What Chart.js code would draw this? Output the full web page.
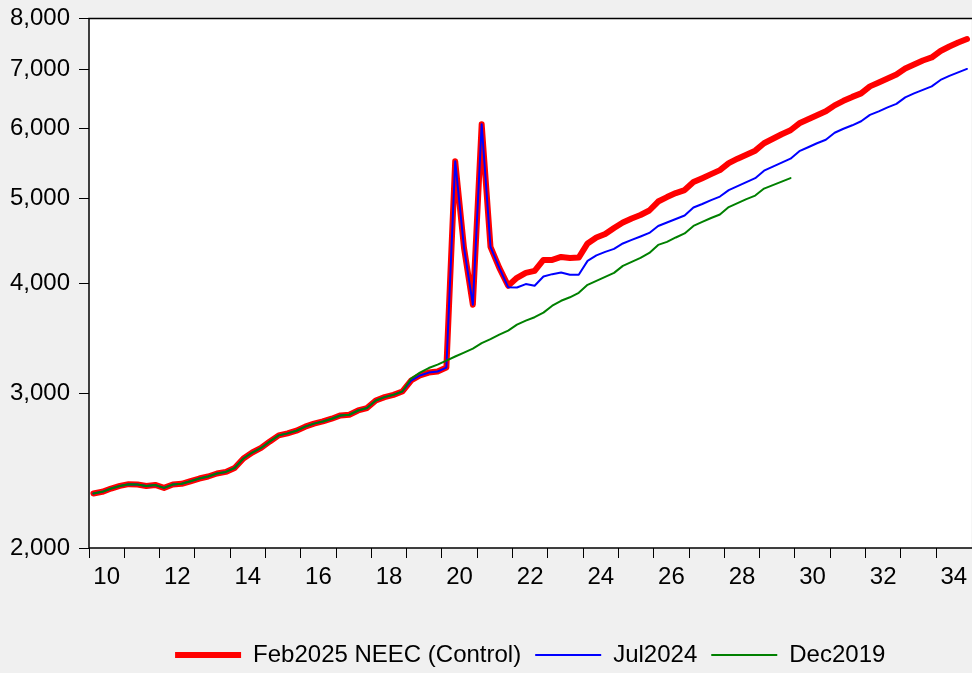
<!DOCTYPE html>
<html>
<head>
<meta charset="utf-8">
<title>NEEC vintages</title>
<script src="https://cdn.jsdelivr.net/npm/chart.js@4.4.1/dist/chart.umd.min.js"></script>
<style>
    html, body { margin: 0; padding: 0; background: #f0f0f0; overflow: hidden; }
    #chart { display: block; }
</style>
</head>
<body>
<canvas id="chart" width="972" height="673"></canvas>
<script>
'use strict';

// quarterly sample 2010Q1 - 2034Q4
const quarters = [];
for (let yr = 2010; yr <= 2034; yr++) {
    for (let q = 1; q <= 4; q++) {
        quarters.push(yr + 'Q' + q);
    }
}
const xTickLabels = ['10', '12', '14', '16', '18', '20', '22', '24', '26', '28', '30', '32', '34'];
const yTicks = [2000, 3000, 4000, 5000, 6000, 7000, 8000];

const feb2025 = [
    2307, 2317, 2337, 2353, 2364, 2362, 2353, 2359, 2341, 2362,
    2366, 2382, 2399, 2412, 2431, 2441, 2466, 2528, 2568, 2599,
    2644, 2686, 2700, 2719, 2748, 2770, 2786, 2806, 2830, 2835,
    2867, 2885, 2943, 2969, 2987, 3013, 3101, 3142, 3166, 3175,
    3208, 5507, 4388, 3782, 6066, 4400, 4165, 3974, 4058, 4111,
    4133, 4253, 4253, 4286, 4275, 4279, 4440, 4510, 4552, 4624,
    4691, 4740, 4783, 4840, 4955, 5013, 5066, 5106, 5214, 5268,
    5324, 5380, 5479, 5544, 5602, 5661, 5772, 5841, 5910, 5972,
    6082, 6146, 6210, 6275, 6374, 6450, 6517, 6577, 6699, 6769,
    6840, 6912, 7021, 7095, 7169, 7226, 7349, 7436, 7514, 7583
];
const jul2024 = [
    2307, 2317, 2337, 2353, 2364, 2362, 2353, 2359, 2341, 2362,
    2366, 2382, 2399, 2412, 2431, 2441, 2466, 2528, 2568, 2599,
    2644, 2686, 2700, 2719, 2748, 2770, 2786, 2806, 2830, 2835,
    2867, 2885, 2943, 2969, 2987, 3013, 3101, 3142, 3166, 3175,
    3208, 5507, 4388, 3782, 6066, 4400, 4165, 3960, 3956, 3992,
    3974, 4072, 4097, 4114, 4090, 4090, 4242, 4303, 4343, 4377,
    4440, 4481, 4522, 4564, 4648, 4691, 4734, 4777, 4878, 4923,
    4974, 5020, 5106, 5159, 5214, 5268, 5372, 5429, 5486, 5544,
    5653, 5712, 5772, 5825, 5933, 5995, 6050, 6114, 6218, 6275,
    6341, 6399, 6509, 6577, 6638, 6699, 6813, 6885, 6948, 7012
];
const dec2019 = [
    2307, 2317, 2337, 2353, 2364, 2362, 2353, 2359, 2341, 2362,
    2366, 2382, 2399, 2412, 2431, 2441, 2466, 2528, 2568, 2599,
    2644, 2686, 2700, 2719, 2748, 2770, 2786, 2806, 2830, 2835,
    2867, 2885, 2943, 2969, 2987, 3013, 3117, 3166, 3204, 3233,
    3267, 3302, 3336, 3371, 3420, 3456, 3497, 3534, 3589, 3627,
    3660, 3704, 3772, 3821, 3856, 3902, 3984, 4026, 4068, 4111,
    4187, 4231, 4275, 4331, 4423, 4458, 4510, 4558, 4648, 4697,
    4746, 4790, 4884, 4935, 4987, 5033, 5126, 5173, 5220, 5268
];

const FONT = "'Liberation Sans', Arial, sans-serif";
Chart.defaults.font.family = FONT;
Chart.defaults.font.size = 24;
Chart.defaults.color = '#000';

// white plot area with a black frame (top, left, bottom)
const plotFrame = {
    id: 'plotFrame',
    beforeDraw(chart) {
        const a = chart.chartArea;
        const ctx = chart.ctx;
        ctx.save();
        ctx.fillStyle = '#fff';
        ctx.fillRect(a.left, a.top, a.right - a.left, a.bottom - a.top);
        ctx.restore();
    },
    afterDraw(chart) {
        const a = chart.chartArea;
        const ctx = chart.ctx;
        ctx.save();
        ctx.strokeStyle = '#000';
        ctx.lineWidth = 1.5;
        ctx.beginPath();
        ctx.moveTo(chart.width, a.top);
        ctx.lineTo(a.left, a.top);
        ctx.lineTo(a.left, a.bottom);
        ctx.lineTo(chart.width, a.bottom);
        ctx.stroke();
        ctx.restore();
    }
};

function series(label, data, color, width, order) {
    return {
        label: label,
        data: data,
        borderColor: color,
        backgroundColor: color,
        borderWidth: width,
        pointRadius: 0,
        tension: 0,
        fill: false,
        borderJoinStyle: 'round',
        borderCapStyle: 'round',
        order: order
    };
}

new Chart(document.getElementById('chart'), {
    type: 'line',
    data: {
        labels: quarters,
        datasets: [
            series('Feb2025 NEEC (Control)', feb2025, '#ff0000', 6, 3),
            series('Jul2024', jul2024, '#0000ff', 2, 2),
            series('Dec2019', dec2019, '#008000', 2, 1)
        ]
    },
    options: {
        responsive: false,
        animation: false,
        events: [],
        layout: {
            autoPadding: false,
            padding: { left: 10, top: 17, right: 0, bottom: -4 }
        },
        plugins: {
            legend: {
                position: 'bottom',
                fullSize: false,
                labels: {
                    usePointStyle: true,
                    pointStyle: 'line',
                    pointStyleWidth: 66,
                    padding: 14,
                    color: '#000',
                    font: { family: FONT, size: 24 },
                    sort: function(a, b) { return a.datasetIndex - b.datasetIndex; }
                }
            },
            tooltip: { enabled: false }
        },
        scales: {
            x: {
                type: 'category',
                offset: true,
                border: { display: false },
                grid: {
                    offset: true,
                    drawOnChartArea: false,
                    tickLength: 10,
                    lineWidth: 1,
                    color: function(ctx) {
                        return ctx.index % 4 === 0 ? '#000' : 'rgba(0,0,0,0)';
                    }
                },
                ticks: {
                    autoSkip: false,
                    maxRotation: 0,
                    minRotation: 0,
                    padding: 5,
                    labelOffset: 4.4,
                    color: '#000',
                    font: { family: FONT, size: 24 },
                    callback: function(value, index) {
                        return index % 8 === 1 ? xTickLabels[(index - 1) / 8] : '';
                    }
                },
                afterFit: function(scale) {
                    scale.height = 81;
                }
            },
            y: {
                type: 'logarithmic',
                min: 2000,
                max: 8000,
                border: { display: false },
                grid: {
                    drawOnChartArea: false,
                    tickLength: 10,
                    lineWidth: 1,
                    color: '#000'
                },
                ticks: {
                    padding: 9,
                    color: '#000',
                    font: { family: FONT, size: 24, lineHeight: 0.8 },
                    callback: function(value) {
                        return Number(value).toLocaleString('en-US');
                    }
                },
                afterBuildTicks: function(scale) {
                    scale.ticks = yTicks.map(function(v) { return { value: v }; });
                },
                afterFit: function(scale) {
                    scale.width = 79;
                }
            }
        }
    },
    plugins: [plotFrame]
});
</script>
</body>
</html>
